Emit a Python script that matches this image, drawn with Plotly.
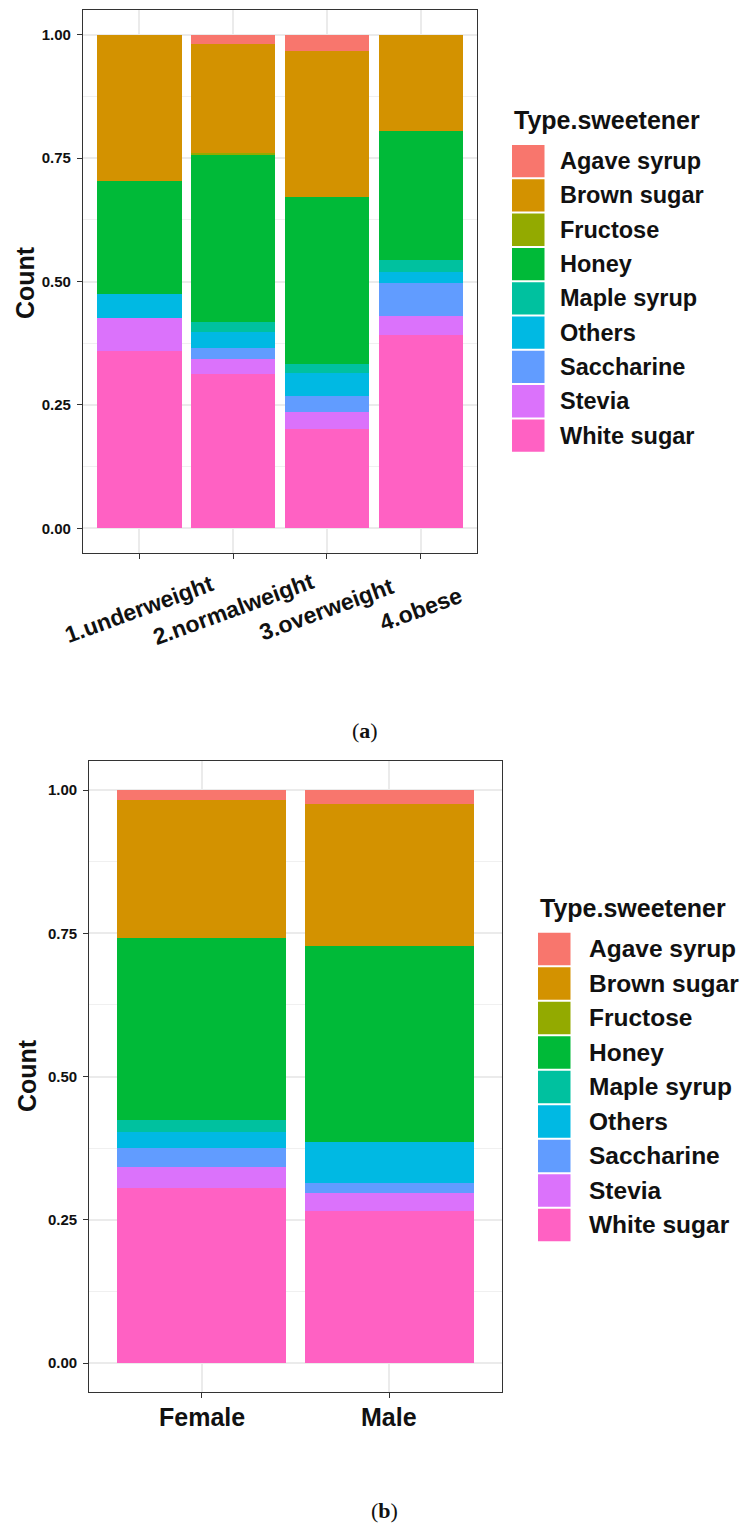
import plotly.graph_objects as go

W, H = 742, 1526

# Sweetener types (legend order, top to bottom) and their hue colours
SWEETENERS = ["Agave syrup", "Brown sugar", "Fructose", "Honey", "Maple syrup",
              "Others", "Saccharine", "Stevia", "White sugar"]
COLORS = ["#F8766D", "#D39200", "#93AA00", "#00BA38", "#00C19F",
          "#00B9E3", "#619CFF", "#DB72FB", "#FF61C3"]

# (a) proportion of each sweetener within BMI groups
BMI_GROUPS = ["1.underweight", "2.normalweight", "3.overweight", "4.obese"]
bmi_agave_syrup = [0.000, 0.018, 0.034, 0.000]
bmi_brown_sugar = [0.296, 0.221, 0.294, 0.195]
bmi_fructose = [0.000, 0.004, 0.000, 0.000]
bmi_honey = [0.229, 0.339, 0.340, 0.261]
bmi_maple_syrup = [0.000, 0.020, 0.017, 0.024]
bmi_others = [0.048, 0.033, 0.046, 0.024]
bmi_saccharine = [0.000, 0.021, 0.034, 0.065]
bmi_stevia = [0.067, 0.031, 0.033, 0.040]
bmi_white_sugar = [0.360, 0.313, 0.202, 0.391]

# (b) proportion of each sweetener by sex
SEXES = ["Female", "Male"]
sex_agave_syrup = [0.017, 0.025]
sex_brown_sugar = [0.241, 0.248]
sex_fructose = [0.000, 0.000]
sex_honey = [0.317, 0.341]
sex_maple_syrup = [0.022, 0.000]
sex_others = [0.028, 0.071]
sex_saccharine = [0.032, 0.019]
sex_stevia = [0.037, 0.030]
sex_white_sugar = [0.306, 0.266]

Y_TICKS = [0, 0.25, 0.5, 0.75, 1.0]
Y_TICKTEXT = ["0.00", "0.25", "0.50", "0.75", "1.00"]

bmi_series = [bmi_agave_syrup, bmi_brown_sugar, bmi_fructose, bmi_honey, bmi_maple_syrup,
              bmi_others, bmi_saccharine, bmi_stevia, bmi_white_sugar]
sex_series = [sex_agave_syrup, sex_brown_sugar, sex_fructose, sex_honey, sex_maple_syrup,
              sex_others, sex_saccharine, sex_stevia, sex_white_sugar]


def px(x):
    return x / W


def py(y):
    return 1 - y / H


FONT = "Liberation Sans"
INK = "#111111"

fig = go.Figure()

# stack from the bottom up: White sugar first, Agave syrup last
for name, color, vals in reversed(list(zip(SWEETENERS, COLORS, bmi_series))):
    fig.add_trace(go.Bar(x=BMI_GROUPS, y=vals, name=name, marker_color=color,
                         marker_line_width=0, width=0.9, showlegend=False,
                         xaxis="x", yaxis="y"))
for name, color, vals in reversed(list(zip(SWEETENERS, COLORS, sex_series))):
    fig.add_trace(go.Bar(x=SEXES, y=vals, name=name, marker_color=color,
                         marker_line_width=0, width=0.9, showlegend=False,
                         xaxis="x2", yaxis="y2"))

axis_common = dict(showline=True, linecolor="#333333", linewidth=1.2, mirror=True,
                   ticks="outside", ticklen=5, tickcolor="#333333", tickwidth=1.2,
                   showgrid=True, gridcolor="#EBEBEB", gridwidth=1.5, zeroline=False)
yaxis_common = dict(axis_common, range=[-0.05, 1.05], tickvals=Y_TICKS, ticktext=Y_TICKTEXT,
                    tickfont=dict(family=FONT, size=15, color=INK, weight="bold"),
                    ticklabelstandoff=3,
                    minor=dict(tickvals=[0.125, 0.375, 0.625, 0.875], showgrid=True,
                               gridcolor="#F0F0F0", gridwidth=1, ticks=""))

fig.update_layout(
    width=W, height=H,
    margin=dict(l=0, r=0, t=0, b=0),
    paper_bgcolor="white", plot_bgcolor="white",
    barmode="stack",
    showlegend=False,
    xaxis=dict(axis_common, domain=[px(83), px(477)], anchor="y", type="category",
               range=[-0.6, 3.6], showticklabels=False),
    yaxis=dict(yaxis_common, domain=[py(553), py(10)], anchor="x"),
    xaxis2=dict(axis_common, domain=[px(89.3), px(501.7)], anchor="y2", type="category",
                range=[-0.6, 1.6], showticklabels=False),
    yaxis2=dict(yaxis_common, domain=[py(1391.7), py(761.4)], anchor="x2"),
)

annotations = []
shapes = []

# rotated category labels for the BMI panel
for g in BMI_GROUPS:
    annotations.append(dict(x=g, y=py(609), xref="x", yref="paper", text=g,
                            showarrow=False, textangle=-20, xanchor="center", yanchor="middle",
                            font=dict(family=FONT, size=23, color=INK, weight="bold")))

# category labels for the sex panel
for s in SEXES:
    annotations.append(dict(x=s, y=py(1417), xref="x2", yref="paper", text=s,
                            showarrow=False, xanchor="center", yanchor="middle",
                            font=dict(family=FONT, size=25, color=INK, weight="bold")))

# y-axis titles
for yc, xc in ((282, 25), (1076, 27)):
    annotations.append(dict(x=px(xc), y=py(yc), xref="paper", yref="paper", text="Count",
                            showarrow=False, textangle=-90, xanchor="center", yanchor="middle",
                            font=dict(family=FONT, size=25, color=INK, weight="bold")))

# legends: (swatch left, title centre y, first swatch top, row pitch, label left, label size)
for sx, ty, top, pitch, lx, lsize in ((512, 120, 145, 34.3, 558, 23.5),
                                      (538, 908, 932.7, 34.5, 586.7, 24.5)):
    annotations.append(dict(x=px(sx), y=py(ty), xref="paper", yref="paper",
                            text="Type.sweetener", showarrow=False,
                            xanchor="left", yanchor="middle",
                            font=dict(family=FONT, size=25, color=INK, weight="bold")))
    for i, (name, color) in enumerate(zip(SWEETENERS, COLORS)):
        y0 = top + i * pitch
        y1 = y0 + pitch - 2
        shapes.append(dict(type="rect", xref="paper", yref="paper",
                           x0=px(sx), x1=px(sx + 32.5), y0=py(y1), y1=py(y0),
                           fillcolor=color, line=dict(width=0)))
        annotations.append(dict(x=px(lx), y=py((y0 + y1) / 2), xref="paper", yref="paper",
                                text=name, showarrow=False, xanchor="left", yanchor="middle",
                                font=dict(family=FONT, size=lsize, color=INK, weight="bold")))

# panel captions
for label, xc, yc in (("a", 365, 730), ("b", 384, 1510)):
    annotations.append(dict(x=px(xc), y=py(yc), xref="paper", yref="paper",
                            text=f"(<b>{label}</b>)", showarrow=False,
                            xanchor="center", yanchor="middle",
                            font=dict(family="Liberation Serif", size=22, color=INK)))

fig.update_layout(annotations=annotations, shapes=shapes)

fig.write_html("out.html")
